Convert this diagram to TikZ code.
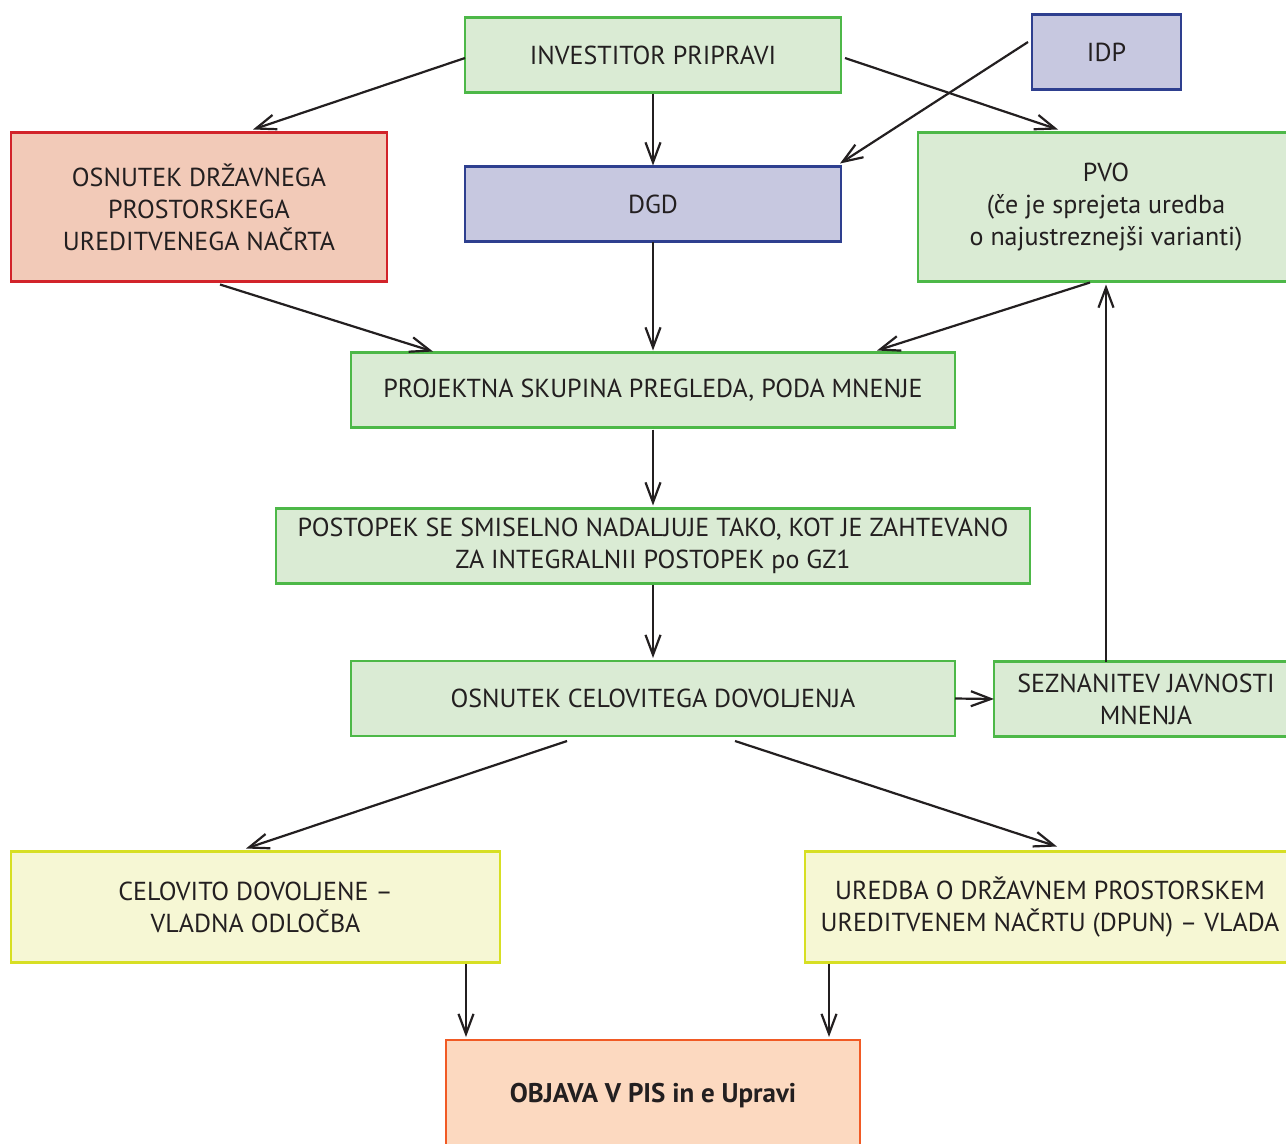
\documentclass[tikz,border=0pt]{standalone}
\usepackage{fontspec}
\setmainfont{PT Sans}
\usetikzlibrary{arrows.meta}
\definecolor{txt}{HTML}{231F20}
\definecolor{gfill}{HTML}{DAEBD4}
\definecolor{gline}{HTML}{4DB848}
\definecolor{rfill}{HTML}{F2CAB8}
\definecolor{rline}{HTML}{D2232A}
\definecolor{bfill}{HTML}{C7C8E0}
\definecolor{bline}{HTML}{2E3F8F}
\definecolor{yfill}{HTML}{F6F7D4}
\definecolor{yline}{HTML}{D7DF23}
\definecolor{ofill}{HTML}{FCD9C0}
\definecolor{oline}{HTML}{F15A24}
\tikzset{
  box/.style={rectangle, line width=2.6pt, align=center, text=txt, inner sep=0pt, outer sep=0pt,
    font=\fontsize{26}{32}\selectfont},
  gbox/.style={box, fill=gfill, draw=gline},
  rbox/.style={box, fill=rfill, draw=rline},
  bbox/.style={box, fill=bfill, draw=bline},
  ybox/.style={box, fill=yfill, draw=yline},
  obox/.style={box, fill=ofill, draw=oline},
  arr/.style={draw=txt, line width=2.2pt, -{Straight Barb[length=20pt,width=15pt,line width=2.2pt]}}
}
\begin{document}
\begin{tikzpicture}[x=1pt,y=-1pt]
\useasboundingbox[fill=white] (0,0) rectangle (1286,1144);

% boxes
\node[gbox, minimum width=376pt, minimum height=75pt] (inv) at (653,55) {INVESTITOR PRIPRAVI};
\node[bbox, minimum width=149pt, minimum height=75pt] (idp) at (1106.5,52) {IDP};
\node[rbox, minimum width=376pt, minimum height=149pt] (osn) at (199,207)
  {OSNUTEK DRŽAVNEGA\\PROSTORSKEGA\\UREDITVENEGA NAČRTA};
\node[bbox, minimum width=376pt, minimum height=75pt] (dgd) at (653,204) {DGD};
\node[gbox, minimum width=376pt, minimum height=149pt] (pvo) at (1106,207)
  {PVO\\(če je sprejeta uredba\\o najustreznejši varianti)};
\node[gbox, minimum width=604pt, minimum height=75pt] (proj) at (653,390)
  {PROJEKTNA SKUPINA PREGLEDA, PODA MNENJE};
\node[gbox, minimum width=754pt, minimum height=75pt] (post) at (653,546)
  {POSTOPEK SE SMISELNO NADALJUJE TAKO, KOT JE ZAHTEVANO\\ZA INTEGRALNII POSTOPEK po GZ1};
\node[gbox, minimum width=604pt, minimum height=75pt] (ocd) at (653,698.5)
  {OSNUTEK CELOVITEGA DOVOLJENJA};
\node[gbox, minimum width=304pt, minimum height=75pt] (sez) at (1146,699)
  {SEZNANITEV JAVNOSTI\\MNENJA};
\node[ybox, minimum width=489pt, minimum height=111pt] (cel) at (255.5,907)
  {CELOVITO DOVOLJENE –\\VLADNA ODLOČBA};
\node[ybox, minimum width=490pt, minimum height=111pt] (ured) at (1050,907)
  {UREDBA O DRŽAVNEM PROSTORSKEM\\UREDITVENEM NAČRTU (DPUN) – VLADA};
\node[obox, minimum width=414pt, minimum height=112pt, font=\fontsize{27}{32}\selectfont\bfseries] (obj) at (653,1096)
  {OBJAVA V PIS in e Upravi};

% connectors
\draw[arr] ([yshift=-3pt]inv.west) -- ([xshift=54pt,yshift=3pt]osn.north);
\draw[arr] ([yshift=-1pt]inv.south) -- ([yshift=1pt]dgd.north);
\draw[arr] ([xshift=4pt,yshift=-3pt]inv.east) -- ([xshift=-48pt,yshift=3pt]pvo.north);
\draw[arr] ([xshift=-4pt,yshift=10pt]idp.west) -- ([xshift=-1pt,yshift=3pt]dgd.north east);
\draw[arr] ([xshift=21pt,yshift=-3pt]osn.south) -- ([xshift=-220pt,yshift=1pt]proj.north);
\draw[arr] (dgd.south) -- ([yshift=2pt]proj.north);
\draw[arr] ([xshift=-16pt,yshift=-1pt]pvo.south) -- ([xshift=224pt,yshift=2pt]proj.north);
\draw[arr] ([yshift=-2pt]proj.south) -- ([yshift=3pt]post.north);
\draw[arr] ([yshift=-1pt]post.south) -- ([yshift=3pt]ocd.north);
\draw[arr] (ocd.east) -- (sez.west);
\draw[arr] ([xshift=-40pt]sez.north) -- ([yshift=-3pt]pvo.south);
\draw[arr] ([xshift=-86pt,yshift=-5pt]ocd.south) -- ([xshift=-9.5pt,yshift=3pt]cel.north);
\draw[arr] ([xshift=82pt,yshift=-5pt]ocd.south) -- ([xshift=7pt,yshift=5pt]ured.north);
\draw[arr] ([xshift=-34pt,yshift=-1pt]cel.south east) -- ([xshift=20pt,yshift=3pt]obj.north west);
\draw[arr] ([xshift=24pt,yshift=-1pt]ured.south west) -- ([xshift=-31pt,yshift=3pt]obj.north east);
\end{tikzpicture}
\end{document}
